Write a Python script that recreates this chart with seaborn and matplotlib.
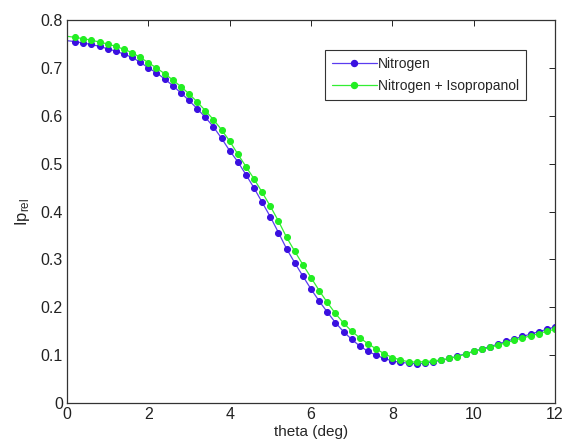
import numpy as np
import pandas as pd
import matplotlib
matplotlib.use("Agg")
import matplotlib.pyplot as plt
from matplotlib.lines import Line2D
import seaborn as sns

# Scattering angle (deg), sampled every 0.2 deg
theta = [round(0.2 * i, 1) for i in range(61)]

nitrogen = [
    0.757, 0.755, 0.752, 0.749, 0.745, 0.740, 0.735, 0.729, 0.722, 0.712,
    0.700, 0.690, 0.677, 0.663, 0.648, 0.632, 0.615, 0.597, 0.577, 0.553,
    0.527, 0.504, 0.477, 0.449, 0.419, 0.389, 0.356, 0.322, 0.293, 0.265,
    0.238, 0.213, 0.190, 0.168, 0.149, 0.133, 0.119, 0.108, 0.100, 0.093,
    0.088, 0.085, 0.083, 0.082, 0.083, 0.086, 0.089, 0.093, 0.098, 0.103,
    0.108, 0.113, 0.118, 0.123, 0.129, 0.134, 0.139, 0.144, 0.149, 0.154,
    0.159,
]

nitrogen_ipa = [
    0.766, 0.764, 0.761, 0.758, 0.754, 0.750, 0.745, 0.739, 0.732, 0.722,
    0.711, 0.700, 0.688, 0.675, 0.661, 0.646, 0.629, 0.611, 0.592, 0.571,
    0.547, 0.520, 0.494, 0.468, 0.440, 0.411, 0.380, 0.346, 0.317, 0.289,
    0.262, 0.235, 0.210, 0.187, 0.167, 0.150, 0.136, 0.124, 0.113, 0.103,
    0.095, 0.090, 0.086, 0.0855, 0.0865, 0.088, 0.090, 0.093, 0.097, 0.102,
    0.108, 0.112, 0.116, 0.121, 0.126, 0.131, 0.136, 0.140, 0.145, 0.150,
    0.154,
]

series_names = ["Nitrogen", "Nitrogen + Isopropanol"]
line_colors = ["#5a3cf0", "#33ee33"]
marker_colors = ["#3a10e0", "#22ee22"]
x_ticks = [0, 2, 4, 6, 8, 10, 12]
y_ticks = [0, 0.1, 0.2, 0.3, 0.4, 0.5, 0.6, 0.7, 0.8]

sns.set_style("white")
plt.rcParams["font.family"] = ["Liberation Sans", "DejaVu Sans"]
plt.rcParams["mathtext.fontset"] = "custom"
plt.rcParams["mathtext.rm"] = "Liberation Sans"
plt.rcParams["mathtext.it"] = "Liberation Sans"

df = pd.DataFrame({"theta": theta, series_names[0]: nitrogen, series_names[1]: nitrogen_ipa})

fig = plt.figure(figsize=(5.66, 4.46), dpi=100)
ax = fig.add_axes([0.1184, 0.0964, 0.8622, 0.8586])

for name, lc, mc in zip(series_names, line_colors, marker_colors):
    sns.lineplot(data=df, x="theta", y=name, ax=ax, color=lc, linewidth=0.9,
                 marker="o", markersize=4.3, markerfacecolor=mc, markeredgecolor=mc,
                 markevery=slice(1, None), legend=False)

ax.set_xlim(0, 12)
ax.set_ylim(0, 0.8)
ax.set_xticks(x_ticks)
ax.set_xticklabels([str(t) for t in x_ticks])
ax.set_yticks(y_ticks)
ax.set_yticklabels(["0"] + [f"{t:.1f}" for t in y_ticks[1:]])
ax.tick_params(direction="in", length=4, width=0.7, colors="#222222",
               labelsize=11.5, top=True, right=True, pad=3)
for sp in ax.spines.values():
    sp.set_visible(True)
    sp.set_color("#333333")
    sp.set_linewidth(0.9)

ax.set_xlabel("theta (deg)", fontsize=11, labelpad=2)
ax.set_ylabel(r"Ip$_{\mathrm{rel}}$", fontsize=12, labelpad=6)

handles = [Line2D([0], [0], color=lc, linewidth=0.9, marker="o", markersize=4.3,
                  markerfacecolor=mc, markeredgecolor=mc)
           for lc, mc in zip(line_colors, marker_colors)]
leg = ax.legend(handles, series_names, loc="upper left", bbox_to_anchor=(0.529, 0.922),
                fontsize=10, frameon=True, fancybox=False, framealpha=1,
                edgecolor="#333333", handlelength=3.2, handletextpad=0.1,
                borderpad=0.5, labelspacing=0.6, borderaxespad=0)
leg.get_frame().set_linewidth(0.8)

fig.savefig("out.png", dpi=100)
